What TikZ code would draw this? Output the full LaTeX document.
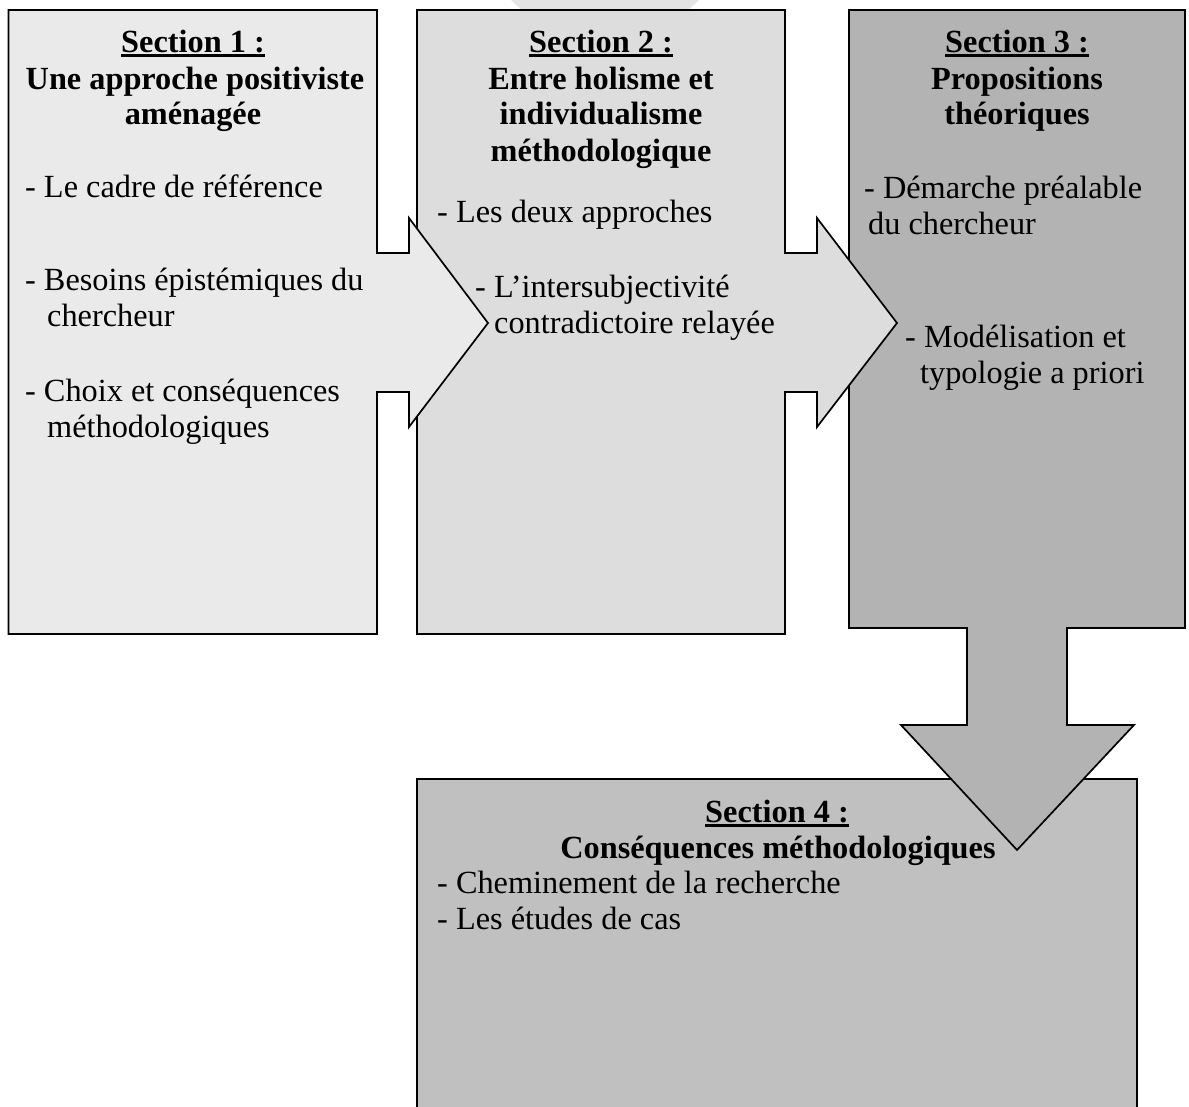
\documentclass[tikz,border=0pt]{standalone}
\usepackage{fontspec}
\setmainfont{Liberation Serif}
\definecolor{sone}{HTML}{EAEAEA}
\definecolor{stwo}{HTML}{DDDDDD}
\definecolor{sthree}{HTML}{B3B3B3}
\definecolor{sfour}{HTML}{C0C0C0}
\definecolor{wmark}{HTML}{E4E4E4}
\newcommand\ulsec[1]{\setbox0\hbox{#1}\rlap{\rule[-5pt]{\wd0}{2.6pt}}\box0}
\begin{document}
\begin{tikzpicture}[x=1pt,y=-1pt,
  boxline/.style={draw=black,line width=1.7pt,line join=miter},
  txt/.style={inner sep=0pt,font=\fontsize{32.3}{36}\selectfont,anchor=base west},
  head/.style={inner sep=0pt,font=\fontsize{32.3}{36}\selectfont\bfseries,anchor=base}]
\useasboundingbox (0,0) rectangle (1189,1106);
% faint watermark circle at top
\fill[wmark] (605,-90) circle (130);
% Section 4 box
\path[boxline,fill=sfour] (417,779) rectangle (1137,1125);
% Section 3 box with down arrow
\path[boxline,fill=sthree] (849,10) -- (1185,10) -- (1185,628) -- (1067,628) -- (1067,725)
  -- (1134,725) -- (1017,850) -- (901,725) -- (967,725) -- (967,628) -- (849,628) -- cycle;
% Section 2 box with right arrow
\path[boxline,fill=stwo] (417,10) -- (785,10) -- (785,253) -- (817,253) -- (817,218)
  -- (897,323) -- (817,427) -- (817,392) -- (785,392) -- (785,634) -- (417,634) -- cycle;
% Section 1 box with right arrow
\path[boxline,fill=sone] (8.5,10) -- (377,10) -- (377,253) -- (409,253) -- (409,218)
  -- (488,323) -- (409,427) -- (409,392) -- (377,392) -- (377,634) -- (8.5,634) -- cycle;
% Section 1 texts
\node[head] (s1a) at (193,52) {\ulsec{Section 1 :}};
\node[head] (s1b) at (195,89) {Une approche positiviste};
\node[head] (s1c) at (193,124) {aménagée};
\node[txt] (s1d) at (25,197) {- Le cadre de référence};
\node[txt] (s1e) at (25,290) {- Besoins épistémiques du};
\node[txt] (s1f) at (47,326) {chercheur};
\node[txt] (s1g) at (25,401) {- Choix et conséquences};
\node[txt] (s1h) at (47,437) {méthodologiques};
% Section 2 texts
\node[head] (s2a) at (601,52) {\ulsec{Section 2 :}};
\node[head] (s2b) at (601,89) {Entre holisme et};
\node[head] (s2c) at (601,124) {individualisme};
\node[head] (s2d) at (601,161) {méthodologique};
\node[txt] (s2e) at (437,222) {- Les deux approches};
\node[txt] (s2f) at (475,297) {- L’intersubjectivité};
\node[txt] (s2g) at (494,333) {contradictoire relayée};
% Section 3 texts
\node[head] (s3a) at (1017,52) {\ulsec{Section 3 :}};
\node[head] (s3b) at (1017,89) {Propositions};
\node[head] (s3c) at (1017,124) {théoriques};
\node[txt] (s3d) at (864,198) {- Démarche préalable};
\node[txt] (s3e) at (868,234) {du chercheur};
\node[txt] (s3f) at (905,347) {- Modélisation et};
\node[txt] (s3g) at (920,383) {typologie a priori};
% Section 4 texts
\node[head] (s4a) at (777,822) {\ulsec{Section 4 :}};
\node[head] (s4b) at (778,858) {Conséquences méthodologiques};
\node[txt] (s4c) at (437,893) {- Cheminement de la recherche};
\node[txt] (s4d) at (437,929) {- Les études de cas};
\end{tikzpicture}
\end{document}
